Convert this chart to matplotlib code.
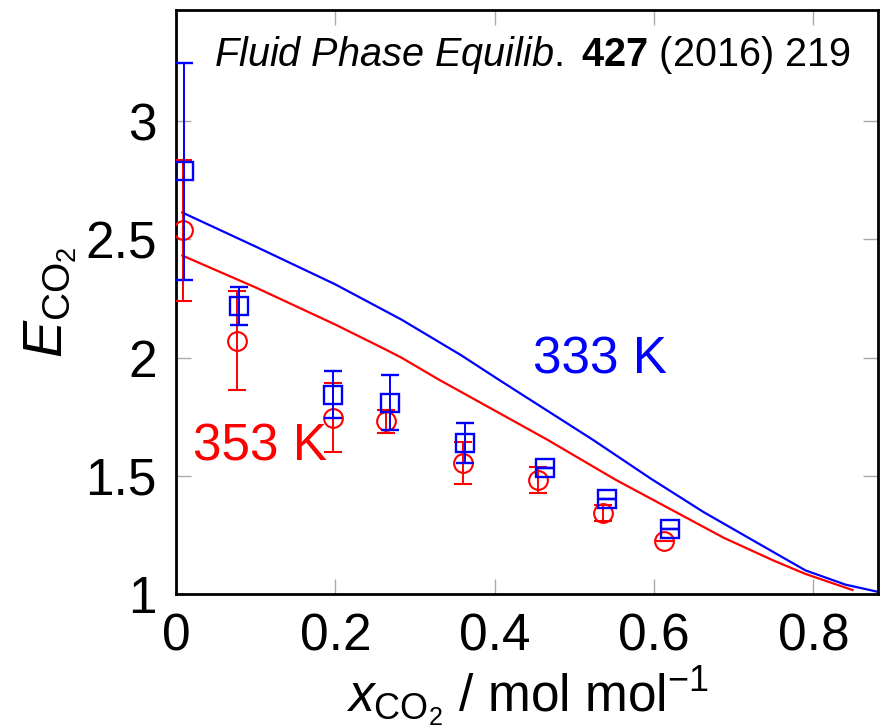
import matplotlib
matplotlib.use("Agg")
import matplotlib.pyplot as plt

plt.rcParams['font.family'] = ['Liberation Sans', 'DejaVu Sans']
plt.rcParams['mathtext.fontset'] = 'custom'
plt.rcParams['mathtext.rm'] = 'Liberation Sans'
plt.rcParams['mathtext.it'] = 'Liberation Sans:italic'
plt.rcParams['mathtext.bf'] = 'Liberation Sans:bold'

# 333 K experimental
x333 = [0.010, 0.079, 0.197, 0.268, 0.363, 0.463, 0.541, 0.620]
y333 = [2.788, 2.220, 1.843, 1.810, 1.640, 1.534, 1.400, 1.275]
e333 = [0.46, 0.08, 0.10, 0.115, 0.085, 0.0, 0.0, 0.0]
# 353 K experimental
x353 = [0.009, 0.077, 0.197, 0.264, 0.360, 0.454, 0.536, 0.612]
y353 = [2.538, 2.072, 1.746, 1.730, 1.555, 1.483, 1.343, 1.225]
e353 = [0.30, 0.21, 0.145, 0.05, 0.09, 0.055, 0.035, 0.0]

# model curves
xl333 = [0.008, 0.100, 0.200, 0.283, 0.358, 0.405, 0.523, 0.596, 0.662, 0.751, 0.790, 0.840, 0.880]
yl333 = [2.614, 2.470, 2.310, 2.161, 2.010, 1.907, 1.653, 1.488, 1.347, 1.175, 1.100, 1.040, 1.010]
xl353 = [0.008, 0.100, 0.200, 0.261, 0.283, 0.330, 0.466, 0.552, 0.662, 0.688, 0.751, 0.790, 0.849]
yl353 = [2.432, 2.297, 2.140, 2.038, 2.000, 1.907, 1.653, 1.483, 1.284, 1.237, 1.140, 1.085, 1.017]

blue = '#0000ff'
red = '#ff0000'

fig = plt.figure(figsize=(8.82, 7.28), dpi=100)
ax = fig.add_axes([0.1995, 0.184, 0.796, 0.802])

ax.plot(xl353, yl353, color=red, lw=1.6, zorder=2)
ax.plot(xl333, yl333, color=blue, lw=1.6, zorder=2)

ax.errorbar(x353, y353, yerr=e353, fmt='o', ms=13.5, mfc='none', mec=red, mew=1.5,
            ecolor=red, elinewidth=1.4, capsize=6.8, capthick=1.5, zorder=3)
ax.errorbar(x333, y333, yerr=e333, fmt='s', ms=13.5, mfc='none', mec=blue, mew=1.7,
            ecolor=blue, elinewidth=1.4, capsize=6.8, capthick=1.5, zorder=4)

ax.set_xlim(0, 0.881)
ax.set_ylim(1.0, 3.47)
ax.set_xticks([0, 0.2, 0.4, 0.6, 0.8])
ax.set_xticklabels(['0', '0.2', '0.4', '0.6', '0.8'])
ax.set_yticks([1, 1.5, 2, 2.5, 3])
ax.set_yticklabels(['1', '1.5', '2', '2.5', '3'])
ax.tick_params(direction='in', length=11, width=1.0, color='#aaaaaa',
               labelsize=37, top=True, right=True)
ax.tick_params(axis='y', pad=14)
ax.tick_params(axis='x', pad=13)
for s in ax.spines.values():
    s.set_linewidth(2.0)
    s.set_color('black')

ax.set_xlabel(r'$x_{\mathrm{CO}_2}$ / mol mol$^{-1}$', fontsize=37, labelpad=2)
ax.set_ylabel(r'$E_{\mathrm{CO}_2}$', fontsize=40, labelpad=4)

ax.text(0.507, 0.923, r'$\it{Fluid\ Phase\ Equilib.}\ \mathbf{427}$ (2016) 219',
        transform=ax.transAxes, ha='center', va='center', fontsize=28.5)
ax.text(0.532, 1.99, '333 K', color=blue, fontsize=37, ha='center', va='center')
ax.text(0.106, 1.62, '353 K', color=red, fontsize=37, ha='center', va='center')

fig.savefig('out.png', dpi=100)
